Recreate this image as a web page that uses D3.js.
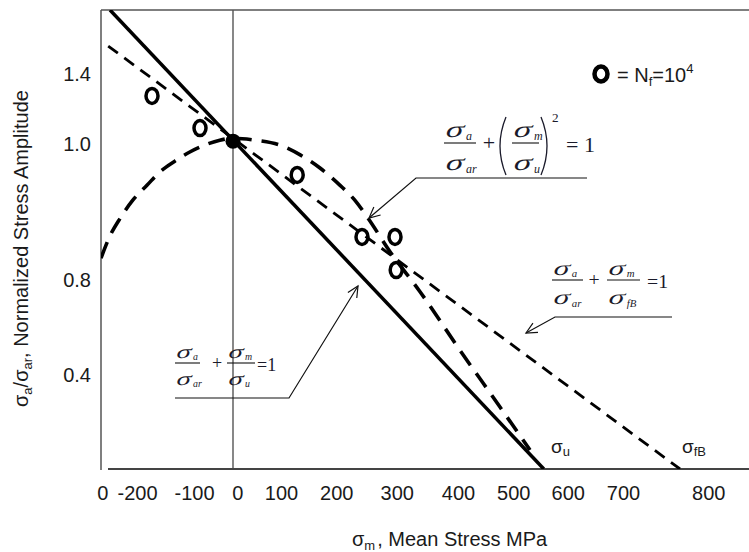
<!DOCTYPE html>
<html>
<head>
<meta charset="utf-8">
<script src="https://cdn.jsdelivr.net/npm/d3@7"></script>
<style>
  body { margin: 0; background: #fff; }
  svg { display: block; }
  .tick text { font-family: "Liberation Sans", Arial, sans-serif; font-size: 20px; fill: #1a1a1a; }
</style>
</head>
<body>
<svg id="chart" width="749" height="552"></svg>
<script>
// tick labels as printed on the original figure (they are not evenly spaced)
var xTickLabels = ["0", "-200", "-100", "0", "100", "200", "300", "400", "500", "600", "700", "800"];
var xTickAt = [-218, -160, -65, 7, 80, 172, 273, 375, 467, 558, 650, 792];
var yTickLabels = ["1.4", "1.0", "0.8", "0.4"];
var yTickAt = [1.205, 0.991, 0.576, 0.287];

// test points, N_f = 10^4
var meanStress = [-135, -55, 107, 215, 270, 272];
var ampRatio = [1.138, 1.040, 0.897, 0.708, 0.708, 0.607];
var refStress = [0];
var refRatio = [1.0];

// Goodman line with sigma_u
var goodmanUX = [-205, 518];
var goodmanUY = [1.4, 0];
// Goodman line with sigma_fB
var goodmanFX = [-208, 745];
var goodmanFY = [1.29, 0];
// Gerber parabola (as drawn)
var gerberX = [-220, -205, -188, -167, -143, -122, -97, -72, -47, -22, 2, 37, 78, 112, 145, 178, 203, 225, 262, 312, 378, 445, 495];
var gerberY = [0.643, 0.711, 0.765, 0.820, 0.866, 0.906, 0.939, 0.967, 0.988, 1.003, 1.009, 1.003, 0.988, 0.958, 0.918, 0.866, 0.820, 0.765, 0.662, 0.540, 0.363, 0.189, 0.058];

var svg = d3.select("#chart");
var x = d3.scaleLinear().domain([-220, 860]).range([101, 749]);
var y = d3.scaleLinear().domain([0, 1.4]).range([469, 10]);

svg.append("defs").append("clipPath").attr("id", "plot")
  .append("rect").attr("x", 101).attr("y", 10).attr("width", 648).attr("height", 459);

// frame
svg.append("line").attr("x1", 101).attr("y1", 10).attr("x2", 101).attr("y2", 470)
  .attr("stroke", "#555").attr("stroke-width", 1.5);
svg.append("line").attr("x1", 101).attr("y1", 10).attr("x2", 749).attr("y2", 10)
  .attr("stroke", "#555").attr("stroke-width", 1.5);
svg.append("line").attr("x1", x(0)).attr("y1", 10).attr("x2", x(0)).attr("y2", 469)
  .attr("stroke", "#555").attr("stroke-width", 1.4);
svg.append("line").attr("x1", 108).attr("y1", 469).attr("x2", 749).attr("y2", 469)
  .attr("stroke", "#444").attr("stroke-width", 2);

// axes (labels only)
var gx = svg.append("g").attr("transform", "translate(0,469)")
  .call(d3.axisBottom(x).tickValues(xTickAt).tickFormat(function(d, i){ return xTickLabels[i]; })
    .tickSize(0).tickPadding(17));
gx.select(".domain").remove();
var gy = svg.append("g").attr("transform", "translate(101,0)")
  .call(d3.axisLeft(y).tickValues(yTickAt).tickFormat(function(d, i){ return yTickLabels[i]; })
    .tickSize(0).tickPadding(10));
gy.select(".domain").remove();

// axis titles
var xt = svg.append("text").attr("x", 352).attr("y", 546)
  .attr("font-family", "Liberation Sans, Arial, sans-serif").attr("font-size", 20).attr("fill", "#1a1a1a");
xt.append("tspan").text("σ");
xt.append("tspan").attr("font-size", 13).attr("dy", 4).text("m");
xt.append("tspan").attr("dy", -4).attr("dx", 2).text(", Mean Stress MPa");

var yt = svg.append("text").attr("transform", "translate(28,407) rotate(-90)")
  .attr("font-family", "Liberation Sans, Arial, sans-serif").attr("font-size", 20).attr("fill", "#1a1a1a");
yt.append("tspan").text("σ");
yt.append("tspan").attr("font-size", 13).attr("dy", 4).text("a");
yt.append("tspan").attr("dy", -4).text("/σ");
yt.append("tspan").attr("font-size", 13).attr("dy", 4).text("ar");
yt.append("tspan").attr("dy", -4).text(", Normalized Stress Amplitude");

// curves
var line = d3.line().x(function(d){ return x(d[0]); }).y(function(d){ return y(d[1]); });
var plot = svg.append("g").attr("clip-path", "url(#plot)");

plot.append("path").attr("d", line(d3.zip(goodmanUX, goodmanUY)))
  .attr("fill", "none").attr("stroke", "#000").attr("stroke-width", 3.5);
plot.append("path").attr("d", line(d3.zip(goodmanFX, goodmanFY)))
  .attr("fill", "none").attr("stroke", "#000").attr("stroke-width", 2.8)
  .attr("stroke-dasharray", "12,8");
plot.append("path").attr("d", line.curve(d3.curveMonotoneX)(d3.zip(gerberX, gerberY)))
  .attr("fill", "none").attr("stroke", "#000").attr("stroke-width", 3.6)
  .attr("stroke-dasharray", "17,10");

// points
plot.selectAll(".pt").data(d3.zip(meanStress, ampRatio)).enter()
  .append("ellipse").attr("class", "pt")
  .attr("cx", function(d){ return x(d[0]); })
  .attr("cy", function(d){ return y(d[1]); })
  .attr("rx", 6).attr("ry", 7.5)
  .attr("fill", "none").attr("stroke", "#000").attr("stroke-width", 3.5);
plot.selectAll(".ref").data(d3.zip(refStress, refRatio)).enter()
  .append("circle").attr("class", "ref")
  .attr("cx", function(d){ return x(d[0]); })
  .attr("cy", function(d){ return y(d[1]); })
  .attr("r", 7.5).attr("fill", "#000");

// legend
svg.append("ellipse").attr("cx", 601).attr("cy", 74).attr("rx", 6.5).attr("ry", 7.5)
  .attr("fill", "none").attr("stroke", "#000").attr("stroke-width", 4.5);
var lg = svg.append("text").attr("x", 617).attr("y", 82)
  .attr("font-family", "Liberation Sans, Arial, sans-serif").attr("font-size", 20).attr("fill", "#1a1a1a");
lg.append("tspan").text("= N");
lg.append("tspan").attr("font-size", 13).attr("dy", 4).text("f");
lg.append("tspan").attr("dy", -4).text("=10");
lg.append("tspan").attr("font-size", 13).attr("dy", -9).text("4");

// sigma_u / sigma_fB labels at the intercepts
function sansSigma(px, py, sub){
  var t = svg.append("text").attr("x", px).attr("y", py)
    .attr("font-family", "Liberation Sans, Arial, sans-serif").attr("font-size", 19).attr("fill", "#1a1a1a");
  t.append("tspan").text("σ");
  t.append("tspan").attr("font-size", 13).attr("dy", 3).text(sub);
}
sansSigma(551, 453, "u");
sansSigma(682, 453, "fB");

// formula helpers
var serif = "Liberation Serif, Times New Roman, serif";
function sigma(px, py, sub, s){
  // upright serif sigma, slanted and widened by hand
  svg.append("text").attr("transform", "translate(" + px + "," + py + ") scale(1.45,1) skewX(-14)")
    .attr("font-family", serif).attr("font-size", 23 * s)
    .attr("fill", "#1a1a2a").text("σ");
  svg.append("text").attr("x", px + 22 * s).attr("y", py + 2.5 * s)
    .attr("font-family", serif).attr("font-style", "italic").attr("font-size", 12 * s)
    .attr("fill", "#1a1a2a").text(sub);
}
function fraction(px, barY, w, num, den, s){
  svg.append("line").attr("x1", px).attr("y1", barY).attr("x2", px + w).attr("y2", barY)
    .attr("stroke", "#111").attr("stroke-width", 1.1);
  sigma(px, barY - 6 * s, num, s);
  sigma(px, barY + 27 * s, den, s);
}
function plain(px, py, str, s, anchor){
  svg.append("text").attr("x", px).attr("y", py).attr("text-anchor", anchor || "start")
    .attr("font-family", serif).attr("font-size", 22 * s).attr("fill", "#1a1a2a").text(str);
}
function arrow(pts){
  svg.append("path").attr("d", d3.line()(pts)).attr("fill", "none")
    .attr("stroke", "#111").attr("stroke-width", 1.2);
  var p = pts[pts.length - 2], q = pts[pts.length - 1];
  var a = Math.atan2(q[1] - p[1], q[0] - p[0]), L = 12, w = 0.45;
  svg.append("path").attr("d", d3.line()([
      [q[0] - L * Math.cos(a - w), q[1] - L * Math.sin(a - w)], q,
      [q[0] - L * Math.cos(a + w), q[1] - L * Math.sin(a + w)]]))
    .attr("fill", "none").attr("stroke", "#111").attr("stroke-width", 1.2);
}

// Gerber formula
fraction(444, 143, 32, "a", "ar", 1);
plain(489, 150, "+", 1, "middle");
svg.append("path").attr("d", "M506,117 Q494,146 506,175").attr("fill", "none").attr("stroke", "#1a1a2a").attr("stroke-width", 1.3);
fraction(512, 143, 27, "m", "u", 1);
svg.append("path").attr("d", "M541,117 Q553,146 541,175").attr("fill", "none").attr("stroke", "#1a1a2a").attr("stroke-width", 1.3);
plain(552, 122, "2", 0.6);
plain(566, 152, "= 1", 1);
arrow([[587, 178], [416, 178], [369, 218]]);

// Goodman (sigma_u) formula
fraction(175, 363, 25, "a", "ar", 0.82);
plain(217, 369, "+", 0.82, "middle");
fraction(227, 363, 28, "m", "u", 0.82);
plain(257, 371, "=1", 0.82);
arrow([[175, 398], [289, 398], [358, 286]]);

// Goodman (sigma_fB) formula
fraction(552, 280, 31, "a", "ar", 0.9);
plain(594, 286, "+", 0.9, "middle");
fraction(607, 280, 33, "m", "fB", 0.9);
plain(647, 288, "=1", 0.9);
arrow([[672, 317], [555, 317], [526, 333]]);
</script>
</body>
</html>
